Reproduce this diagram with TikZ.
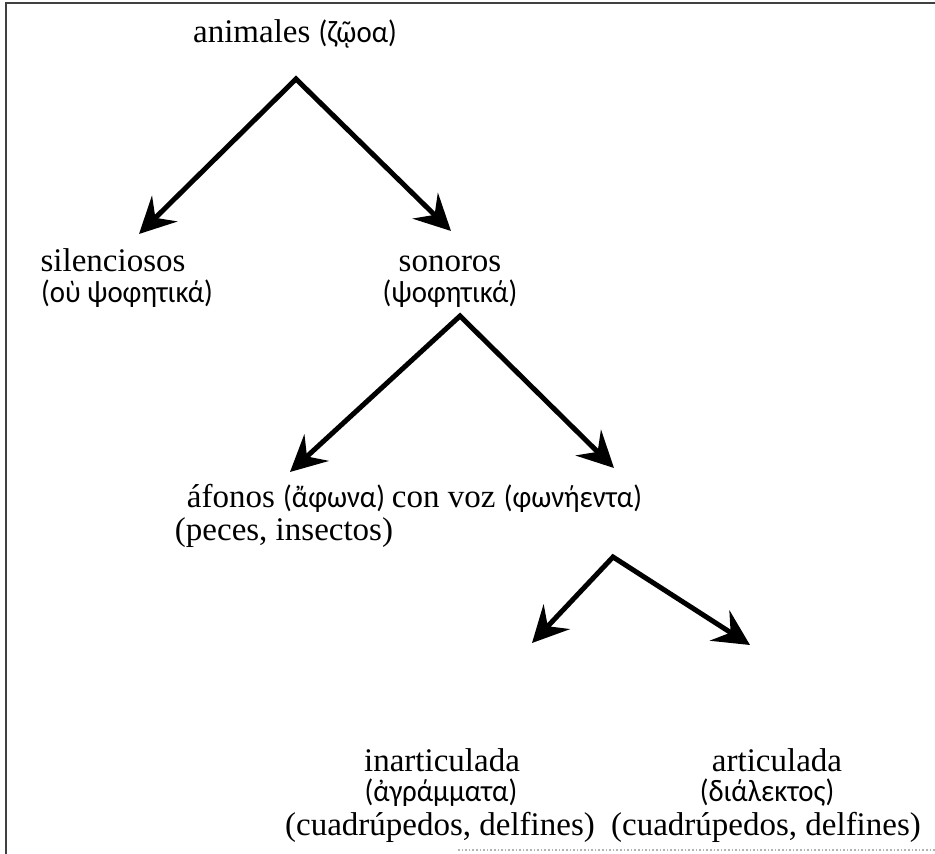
\documentclass[tikz,border=0pt]{standalone}
\usepackage{fontspec}
\setmainfont{Liberation Serif}
\newfontfamily\grk[FakeStretch=0.93]{Carlito}
\usetikzlibrary{arrows.meta}
\newcommand{\gtxt}[1]{{\grk\fontsize{15.5}{17}\selectfont #1}}
\tikzset{
  lbl/.style={font=\fontsize{16.5}{17}\selectfont, inner sep=0pt, anchor=base},
  gk/.style={font=\fontsize{15.5}{17}\selectfont\grk},
  tip/.tip={Stealth[length=18pt,width=18pt,inset=6.5pt]},
  arr/.style={line width=2.5pt, line join=miter, miter limit=20, tip-tip},
  framel/.style={line width=1pt, draw=black!75},
  framelight/.style={line width=0.8pt, draw=black!30, densely dotted}
}
\begin{document}
\begin{tikzpicture}[x=0.5pt,y=-0.5pt]
\useasboundingbox (0,0) rectangle (935,854);
% frame
\coordinate (fbl) at (6,854);
\coordinate (ftl) at (6,3);
\coordinate (ftr) at (935,3);
\coordinate (fb1) at (458,850);
\coordinate (fb2) at (935,850);
\draw[framel] (fbl) -- (ftl) -- (ftr);
\draw[framelight] (fb1) -- (fb2);

% labels
\node[lbl] (anim) at (295,43) {animales \gtxt{(ζῷοα)}};

\node[lbl] (sil1) at (113,272) {silenciosos};
\node[lbl,gk] (sil2) at (127,303) {(οὺ ψοφητικά)};

\node[lbl] (son1) at (450,272) {sonoros};
\node[lbl,gk] (son2) at (450,303) {(ψοφητικά)};

\node[lbl] (afo1) at (286,508) {áfonos \gtxt{(ἄφωνα)}};
\node[lbl] (afo2) at (284,540) {(peces, insectos)};

\node[lbl] (voz) at (517,508) {con voz \gtxt{(φωνήεντα)}};

\node[lbl] (ina1) at (442,771) {inarticulada};
\node[lbl,gk] (ina2) at (441,801) {(ἀγράμματα)};
\node[lbl] (ina3) at (440,835) {(cuadrúpedos, delfines)};

\node[lbl] (art1) at (777,771) {articulada};
\node[lbl,gk] (art2) at (767,801) {(διάλεκτος)};
\node[lbl] (art3) at (766,835) {(cuadrúpedos, delfines)};

% arrows
\coordinate (apA) at (296,79);
\coordinate (tA1) at (139,234);
\coordinate (tA2) at (451,231);
\coordinate (apB) at (460,316);
\coordinate (tB1) at (290,472);
\coordinate (tB2) at (614,468);
\coordinate (apC) at (613,557);
\coordinate (tC1) at (532,643);
\coordinate (tC2) at (750,645);
\draw[arr] (tA1) -- (apA) -- (tA2);
\draw[arr] (tB1) -- (apB) -- (tB2);
\draw[arr] (tC1) -- (apC) -- (tC2);
\end{tikzpicture}
\end{document}
